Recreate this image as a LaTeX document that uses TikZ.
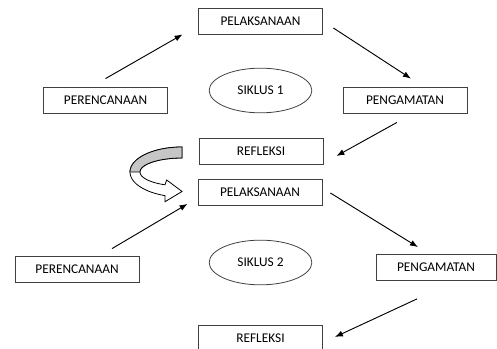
\documentclass[tikz,border=0pt]{standalone}
\usepackage{fontspec}
\setmainfont{Carlito}
\usetikzlibrary{shapes.geometric,arrows.meta}
\begin{document}
\begin{tikzpicture}[x=0.75pt,y=-0.75pt,
	box/.style={draw=black!75, line width=0.6pt, minimum width=93pt, minimum height=19.5pt, inner sep=0pt, font=\fontsize{10}{12}\selectfont},
	siklus/.style={ellipse, draw=black!75, line width=0.6pt, minimum width=77pt, minimum height=33.5pt, inner sep=0pt, font=\fontsize{10}{12}\selectfont},
	link/.style={-{Latex[length=6pt,width=4.5pt]}, line width=0.7pt}]
	% Frame
	\clip (0,0) rectangle (497,349);
	% Siklus 1
	\node[box] (pel1) at (260.5,21) {PELAKSANAAN};
	\node[box] (per1) at (105.5,100) {PERENCANAAN};
	\node[siklus] (sik1) at (260.5,90.5) {SIKLUS 1};
	\node[box] (pen1) at (405,100) {PENGAMATAN};
	\node[box] (ref1) at (261,151) {REFLEKSI};
	\draw[link] ([shift={(0,-8)}]per1.north) -- ([shift={(-15.5,0)}]pel1.south west);
	\draw[link] ([shift={(10.5,7)}]pel1.east) -- ([shift={(6,-8)}]pen1.north);
	\draw[link] ([shift={(-8,9)}]pen1.south) -- ([shift={(13,5)}]ref1.east);
	% Siklus 2
	\node[box] (pel2) at (260,192.5) {PELAKSANAAN};
	\node[box] (per2) at (77,269) {PERENCANAAN};
	\node[siklus] (sik2) at (260.5,262.5) {SIKLUS 2};
	\node[box, minimum width=90pt] (pen2) at (436,267.5) {PENGAMATAN};
	\node[box] (ref2) at (260.5,338) {REFLEKSI};
	\draw[link] ([shift={(35,-7)}]per2.north) -- ([shift={(-10,-2)}]pel2.south west);
	\draw[link] ([shift={(8,0.5)}]pel2.east) -- ([shift={(-18,-7)}]pen2.north);
	\draw[link] ([shift={(-19,18)}]pen2.south) -- ([shift={(12,-1)}]ref2.east);
	% Curved arrow
	\draw[line width=0.6pt, fill=white] plot[domain=90:250.9, samples=40] ({182+52*cos(\x)},{172-25*sin(\x)})
		-- (165,201.7) -- (182,191.5) -- (166.7,180)
		-- plot[domain=246.1:90, samples=40] ({182+42*cos(\x)},{172-14*sin(\x)}) -- cycle;
	\draw[line width=0.6pt, fill=gray!45] plot[domain=90:180, samples=30] ({182+52*cos(\x)},{172-25*sin(\x)})
		-- plot[domain=180:90, samples=30] ({182+42*cos(\x)},{172-14*sin(\x)}) -- cycle;
\end{tikzpicture}
\end{document}
